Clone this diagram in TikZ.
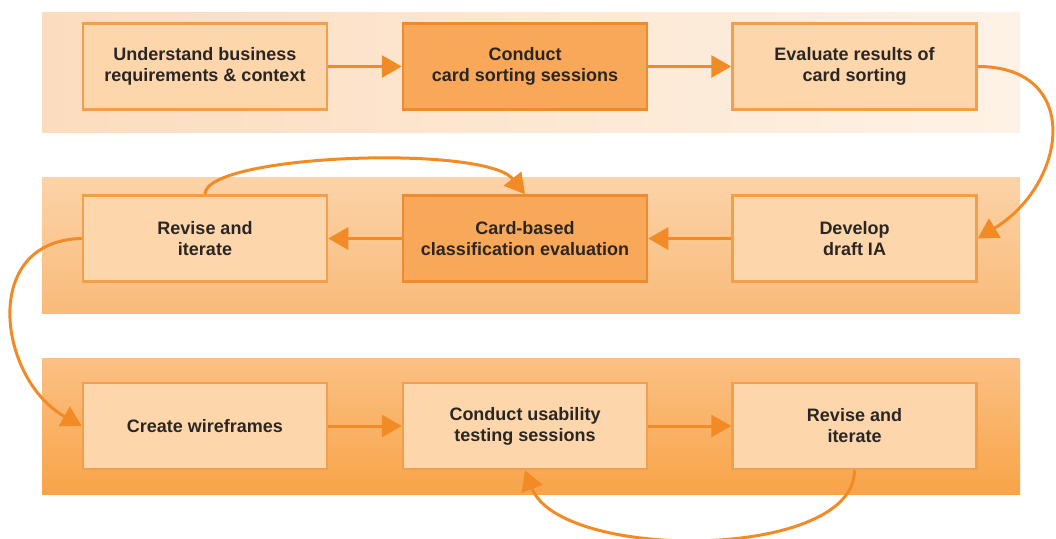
\documentclass[tikz,border=0pt]{standalone}
\usepackage{fontspec}
\setmainfont{Liberation Sans}
\usetikzlibrary{arrows.meta,calc}
\definecolor{lineor}{HTML}{F28A26}
\definecolor{boxfill}{HTML}{FDD6AC}
\definecolor{boxedge}{HTML}{F19F4C}
\definecolor{darkfill}{HTML}{F8A858}
\definecolor{darkedge}{HTML}{EE8B2E}
\definecolor{txt}{HTML}{2B2623}
\definecolor{bandAl}{HTML}{FCDCBE}
\definecolor{bandAr}{HTML}{FEF2E6}
\definecolor{bandBt}{HTML}{FCD3A8}
\definecolor{bandBb}{HTML}{F9BA78}
\definecolor{bandCt}{HTML}{FBC084}
\definecolor{bandCb}{HTML}{F8A448}
\begin{document}
\begin{tikzpicture}[x=1pt,y=1pt,
  box/.style={draw=boxedge, fill=boxfill, line width=2.5pt, minimum width=244pt,
    minimum height=86pt, inner sep=0pt, align=center,
    font=\bfseries\fontsize{18}{21}\selectfont, text=txt},
  darkbox/.style={box, fill=darkfill, draw=darkedge},
  flow/.style={draw=lineor, line width=3pt, -{Triangle[length=20pt,width=22pt]}}]
\useasboundingbox (0,0) rectangle (1056,538);
\fill[white] (0,0) rectangle (1056,538);
% bands
\fill[left color=bandAl, right color=bandAr] (42,405) rectangle (1020,525);
\fill[top color=bandBt, bottom color=bandBb] (42,224) rectangle (1020,360);
\fill[top color=bandCt, bottom color=bandCb] (42,44) rectangle (1020,179);
% row 1
\node[box]     (a1) at (205,471.5)   {Understand business\\requirements \& context};
\node[darkbox] (a2) at (525,471.5)   {Conduct\\card sorting sessions};
\node[box]     (a3) at (854.5,471.5) {Evaluate results of\\card sorting};
% row 2
\node[box]     (b1) at (205,299.5)   {Revise and\\iterate};
\node[darkbox] (b2) at (525,299.5)   {Card-based\\classification evaluation};
\node[box]     (b3) at (854.5,299.5) {Develop\\draft IA};
% row 3
\node[box]     (c1) at (205,112)     {Create wireframes};
\node[box]     (c2) at (525,112)     {Conduct usability\\testing sessions};
\node[box]     (c3) at (854.5,112)   {Revise and\\iterate};
% straight connectors
\draw[flow] (a1) -- (a2);
\draw[flow] (a2) -- (a3);
\draw[flow] (b3) -- (b2);
\draw[flow] (b2) -- (b1);
\draw[flow] (c1) -- (c2);
\draw[flow] (c2) -- (c3);
% curved connectors
\draw[flow] (a3.east) .. controls +(105,0) and +(90,55) .. (b3.east);
\draw[flow] (b1.north) .. controls +(0,40) and +(-40,50) .. (b2.north);
\draw[flow] (b1.west) .. controls +(-103,-2) and +(-83,46) .. (c1.west);
\draw[flow] (c3.south) .. controls +(0,-91) and +(35,-91) .. (c2.south);
\end{tikzpicture}
\end{document}
